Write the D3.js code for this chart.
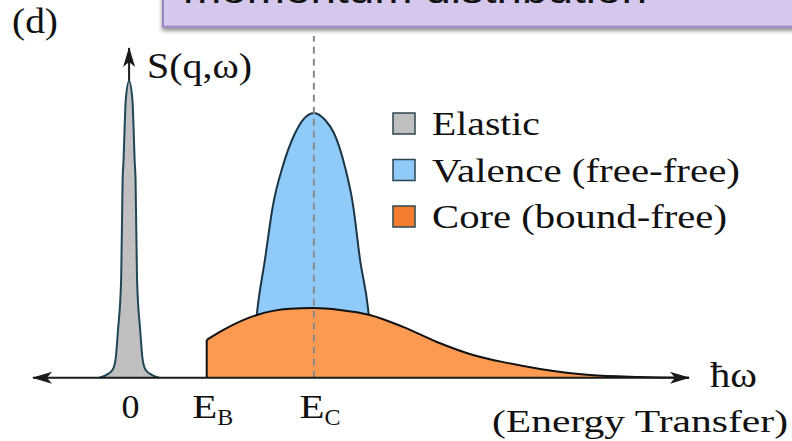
<!DOCTYPE html>
<html>
<head>
<meta charset="utf-8">
<script src="https://cdn.jsdelivr.net/npm/d3@7"></script>
<style>
  html, body { margin: 0; padding: 0; background: #fff; overflow: hidden; }
  svg { display: block; }
  .serif { font-family: "Liberation Serif", "Times New Roman", Times, serif; fill: #111; }
  .sans { font-family: "Liberation Sans", Arial, sans-serif; fill: #111; }
</style>
</head>
<body>
<svg id="chart" width="792" height="441"></svg>
<script>
// ---- data: energy transfer (arb. units, E_C = 10) and S(q,ω) (valence peak = 1) ----
const elasticEnergy = [-1.62, -1.25, -0.89, -0.73, -0.6, -0.43, -0.35, -0.3, -0.24, -0.18, 0,
                        0.18, 0.24, 0.3, 0.35, 0.43, 0.6, 0.73, 0.89, 1.25, 1.62];
const elasticS      = [0, 0.01, 0.03, 0.07, 0.18, 0.37, 0.75, 0.82, 0.95, 1.05, 1.12,
                        1.05, 0.95, 0.82, 0.75, 0.37, 0.18, 0.07, 0.03, 0.01, 0];

const valenceEnergy = [6.6, 6.94, 7.35, 7.79, 8.31, 8.98, 9.41, 10, 10.6, 11.09, 11.68, 12.12, 12.5, 12.94, 13.25];
const valenceS      = [0, 0.256, 0.445, 0.652, 0.797, 0.923, 0.974, 1.0, 0.974, 0.923, 0.797, 0.652, 0.445, 0.256, 0];

const coreEnergy = [4.2, 5.08, 6.92, 8.71, 9.95, 11.41, 13.03, 14.82, 16.66, 18.61, 20.45, 22.24, 24.94, 27.65, 30.3];
const coreS      = [0.143, 0.18, 0.237, 0.26, 0.263, 0.256, 0.237, 0.192, 0.135, 0.086, 0.056, 0.033, 0.01, 0.003, 0];

const tickValues = [0, 4.2, 10];
const tickMain   = ["0", "E", "E"];
const tickSub    = ["", "B", "C"];

const legendLabels = ["Elastic", "Valence (free-free)", "Core (bound-free)"];
const legendFills  = ["#bfbfbf", "#8fcaf9", "#f57e2e"];

const energyCentre = 10;     // E_C guide line
const xDomain = [-5.2, 30.3];
const yDomain = [0, 1.245];

// ---- layout ----
const svg = d3.select("#chart");
const x = d3.scaleLinear().domain(xDomain).range([33, 689]);
const y = d3.scaleLinear().domain(yDomain).range([377.7, 48]);

// text helper: font size plus a fixed rendered width (glyphs are drawn slightly wide)
function label(parent, cls, px, py, size, width, str) {
  return parent.append("text").attr("class", cls)
    .attr("x", px).attr("y", py).attr("font-size", size)
    .attr("text-anchor", "start")
    .attr("textLength", width).attr("lengthAdjust", "spacingAndGlyphs")
    .text(str);
}

const defs = svg.append("defs");
defs.append("filter").attr("id", "boxShadow")
  .attr("x", "-5%").attr("y", "-50%").attr("width", "110%").attr("height", "200%")
  .append("feDropShadow").attr("dx", 0).attr("dy", 3).attr("stdDeviation", 2)
  .attr("flood-color", "#000").attr("flood-opacity", 0.45);
defs.append("marker").attr("id", "arrow")
  .attr("viewBox", "0 -7 20 14").attr("refX", 19).attr("refY", 0)
  .attr("markerWidth", 20).attr("markerHeight", 14).attr("markerUnits", "userSpaceOnUse")
  .attr("orient", "auto-start-reverse")
  .append("path").attr("d", "M0,-6 L20,0 L0,6 L5,0 Z").attr("fill", "#1a1a1a");

// ---- title banner (clipped at the top edge) ----
svg.append("rect")
  .attr("x", 163).attr("y", -20).attr("width", 660).attr("height", 46.7)
  .attr("fill", "#d6c8ec").attr("stroke", "#9b86c6").attr("stroke-width", 2)
  .attr("filter", "url(#boxShadow)");
label(svg, "sans", 183, 2.5, 38, 464, "momentum distribution");

// panel label
label(svg, "serif", 12, 33, 35, 46, "(d)");

// ---- vertical axis (drawn beneath the elastic peak) ----
svg.append("line")
  .attr("x1", x(0)).attr("x2", x(0)).attr("y1", y(0)).attr("y2", y(yDomain[1]))
  .attr("stroke", "#1a1a1a").attr("stroke-width", 2).attr("marker-end", "url(#arrow)");
label(svg, "serif", 147, 78, 36, 105, "S(q,ω)");

// ---- spectra ----
const zip = (xs, ys) => xs.map((e, i) => [e, ys[i]]);
const valence = zip(valenceEnergy, valenceS);
const core = zip(coreEnergy, coreS);
const elastic = zip(elasticEnergy, elasticS);

const area = d3.area().x(d => x(d[0])).y0(y(0)).y1(d => y(d[1])).curve(d3.curveMonotoneX);
const line = d3.line().x(d => x(d[0])).y(d => y(d[1])).curve(d3.curveMonotoneX);

// valence (free-free) peak
svg.append("path").datum(valence).attr("d", area).attr("fill", "#8fcaf9");
svg.append("path").datum(valence).attr("d", line)
  .attr("fill", "none").attr("stroke", "#1c3645").attr("stroke-width", 2);

// core (bound-free) continuum starting at the binding edge
svg.append("path").datum(core).attr("d", area).attr("fill", "#fc9a52");
svg.append("path").datum(core).attr("d", line)
  .attr("fill", "none").attr("stroke", "#111").attr("stroke-width", 2);
svg.append("line")
  .attr("x1", x(coreEnergy[0])).attr("x2", x(coreEnergy[0]))
  .attr("y1", y(0)).attr("y2", y(coreS[0]))
  .attr("stroke", "#111").attr("stroke-width", 2);

// elastic peak at zero energy transfer
svg.append("path").datum(elastic).attr("d", area).attr("fill", "#c0c0c0");
svg.append("path").datum(elastic).attr("d", line)
  .attr("fill", "none").attr("stroke", "#1f4756").attr("stroke-width", 2);

// E_C guide
svg.append("line")
  .attr("x1", x(energyCentre)).attr("x2", x(energyCentre))
  .attr("y1", y(0)).attr("y2", y(1.29))
  .attr("stroke", "#8a8a8a").attr("stroke-width", 2).attr("stroke-dasharray", "7,5");

// ---- horizontal axis with arrows at both ends ----
svg.append("line")
  .attr("x1", x(xDomain[0])).attr("x2", x(xDomain[1])).attr("y1", y(0)).attr("y2", y(0))
  .attr("stroke", "#1a1a1a").attr("stroke-width", 2)
  .attr("marker-start", "url(#arrow)").attr("marker-end", "url(#arrow)");

const axis = svg.append("g").attr("transform", `translate(0,${y(0)})`)
  .call(d3.axisBottom(x).tickValues(tickValues).tickSize(0).tickFormat(() => ""));
axis.select(".domain").remove();
axis.selectAll(".tick").each(function (d, i) {
  const g = d3.select(this);
  if (!tickSub[i]) {
    label(g, "serif", -8, 40.3, 33, 18, tickMain[i]);
  } else {
    label(g, "serif", -15, 40.3, 33, 25, tickMain[i]);
    label(g, "serif", 10, 47.3, 23, 16, tickSub[i]);
  }
});

label(svg, "serif", 710, 387, 36, 47, "ħω");
label(svg, "serif", 492, 432, 32, 296, "(Energy Transfer)");

// ---- legend ----
const legendWidths = [108, 308, 295];
const legend = svg.append("g").selectAll("g").data(legendLabels).join("g")
  .attr("transform", (d, i) => `translate(393,${135 + i * 46.5})`);
legend.append("rect").attr("x", 0).attr("y", -22).attr("width", 22).attr("height", 21)
  .attr("fill", (d, i) => legendFills[i]).attr("stroke", "#2c4550").attr("stroke-width", 1.5);
legend.each(function (d, i) {
  label(d3.select(this), "serif", 39, 0, 33, legendWidths[i], d);
});
</script>
</body>
</html>
